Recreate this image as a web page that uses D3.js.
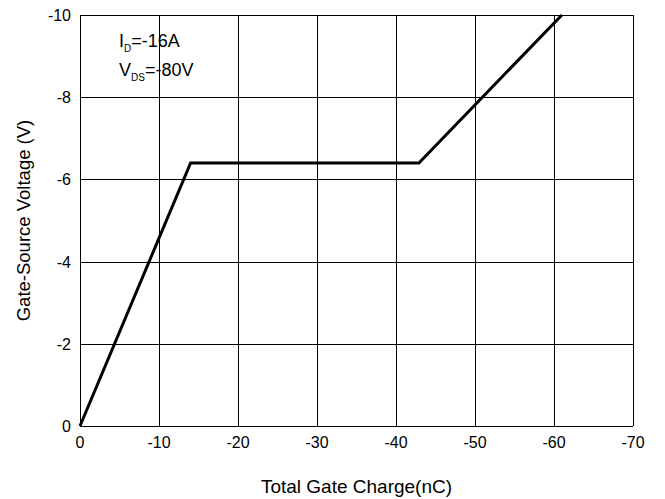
<!DOCTYPE html>
<html>
<head>
<meta charset="utf-8">
<script src="https://d3js.org/d3.v7.min.js"></script>
<style>
  body { margin: 0; background: #fff; }
  text { font-family: "Liberation Sans", Arial, sans-serif; fill: #000; }
</style>
</head>
<body>
<div id="chart"></div>
<script>
// gate charge curve (nC, V)
var chargeVals = [0, -14, -42.9, -61];
var voltageVals = [0, -6.4, -6.4, -10];
var xTicks = [0, -10, -20, -30, -40, -50, -60, -70];
var yTicks = [0, -2, -4, -6, -8, -10];

var width = 665, height = 499;
var margin = {top: 15, right: 32, bottom: 73, left: 80};

var svg = d3.select("#chart")
    .append("svg")
    .attr("width", width)
    .attr("height", height);

var x = d3.scaleLinear()
    .domain([0, -70])
    .range([margin.left, width - margin.right]);

var y = d3.scaleLinear()
    .domain([0, -10])
    .range([height - margin.bottom, margin.top]);

// grid
var grid = svg.append("g").attr("shape-rendering", "crispEdges");
grid.selectAll(".vx")
    .data(xTicks)
    .enter().append("line")
    .attr("x1", d => Math.round(x(d)) + 0.5)
    .attr("x2", d => Math.round(x(d)) + 0.5)
    .attr("y1", y(0))
    .attr("y2", y(-10))
    .attr("stroke", "#000")
    .attr("stroke-width", 1);

grid.selectAll(".hy")
    .data(yTicks)
    .enter().append("line")
    .attr("x1", x(0))
    .attr("x2", x(-70))
    .attr("y1", d => Math.round(y(d)) + 0.5)
    .attr("y2", d => Math.round(y(d)) + 0.5)
    .attr("stroke", "#000")
    .attr("stroke-width", 1);

// tick labels
svg.selectAll(".xl")
    .data(xTicks)
    .enter().append("text")
    .attr("x", d => x(d))
    .attr("y", y(0) + 22)
    .attr("text-anchor", "middle")
    .style("font-size", "16px")
    .text(d => d);

svg.selectAll(".yl")
    .data(yTicks)
    .enter().append("text")
    .attr("x", x(0) - 9)
    .attr("y", d => y(d) + 6)
    .attr("text-anchor", "end")
    .style("font-size", "16px")
    .text(d => d);

// axis titles
svg.append("text")
    .attr("x", (x(0) + x(-70)) / 2)
    .attr("y", 493)
    .attr("text-anchor", "middle")
    .style("font-size", "19px")
    .text("Total Gate Charge(nC)");

svg.append("text")
    .attr("transform", `translate(30,${(y(0) + y(-10)) / 2}) rotate(-90)`)
    .attr("text-anchor", "middle")
    .style("font-size", "18.5px")
    .text("Gate-Source Voltage (V)");

// curve
var pts = chargeVals.map((c, i) => [c, voltageVals[i]]);
var line = d3.line().x(d => x(d[0])).y(d => y(d[1]));
svg.append("path")
    .attr("d", line(pts))
    .attr("fill", "none")
    .attr("stroke", "#000")
    .attr("stroke-width", 3)
    .attr("stroke-linejoin", "miter");

// annotation
var ann = svg.append("g").style("font-size", "18px");
var t1 = ann.append("text").attr("x", 119).attr("y", 47);
t1.append("tspan").text("I");
t1.append("tspan").attr("dy", 5).style("font-size", "10px").text("D");
t1.append("tspan").attr("dy", -5).text("=-16A");

var t2 = ann.append("text").attr("x", 119).attr("y", 76);
t2.append("tspan").text("V");
t2.append("tspan").attr("dy", 5).style("font-size", "10px").text("DS");
t2.append("tspan").attr("dy", -5).text("=-80V");
</script>
</body>
</html>
